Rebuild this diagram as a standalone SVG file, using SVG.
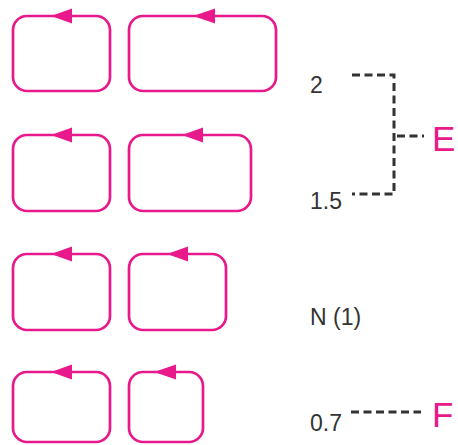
<svg xmlns="http://www.w3.org/2000/svg" width="458" height="445" viewBox="0 0 458 445">
<style>
.loop{fill:none;stroke:#e8198b;stroke-width:2.7}
.head{fill:#e8198b}
.dash{fill:none;stroke:#333;stroke-width:3;stroke-dasharray:8 4.5}
.num{font-family:"Liberation Sans",Arial,sans-serif;font-size:23px;fill:#333}
.big{font-family:"Liberation Sans",Arial,sans-serif;font-size:35px;fill:#e8198b}
</style>
<rect width="458" height="445" fill="#fff"/>
<g id="loop-1a"><rect class="loop" x="13" y="16" width="97" height="75" rx="14"/><path class="head" d="M51 16 L72 8.5 L72 23.5 Z"/></g>
<g id="loop-1b"><rect class="loop" x="129" y="16" width="147" height="75" rx="14"/><path class="head" d="M193 16 L215 8.5 L215 23.5 Z"/></g>
<g id="loop-2a"><rect class="loop" x="13" y="135" width="97" height="76" rx="14"/><path class="head" d="M51 135 L72 127.5 L72 142.5 Z"/></g>
<g id="loop-2b"><rect class="loop" x="129" y="135" width="122" height="76" rx="14"/><path class="head" d="M182 135 L203 127.5 L203 142.5 Z"/></g>
<g id="loop-3a"><rect class="loop" x="13" y="254" width="97" height="76" rx="14"/><path class="head" d="M51 254 L72 246.5 L72 261.5 Z"/></g>
<g id="loop-3b"><rect class="loop" x="129" y="254" width="97" height="76" rx="14"/><path class="head" d="M167 254 L188 246.5 L188 261.5 Z"/></g>
<g id="loop-4a"><rect class="loop" x="13" y="372" width="97" height="70" rx="14"/><path class="head" d="M51 372 L72 364.5 L72 379.5 Z"/></g>
<g id="loop-4b"><rect class="loop" x="129" y="372" width="74" height="70" rx="14"/><path class="head" d="M154 372 L176 364.5 L176 379.5 Z"/></g>
<g id="labels">
<text class="num" x="310" y="93">2</text>
<text class="num" x="310" y="209">1.5</text>
<text class="num" x="310" y="325">N (1)</text>
<text class="num" x="310" y="431">0.7</text>
<text class="big" x="432" y="151">E</text>
<text class="big" x="432" y="427">F</text>
</g>
<g id="connectors">
<path class="dash" d="M352 75 H394 V194 H352"/>
<path class="dash" d="M397 136 H424"/>
<path class="dash" d="M351 412 H421"/>
</g>
</svg>
